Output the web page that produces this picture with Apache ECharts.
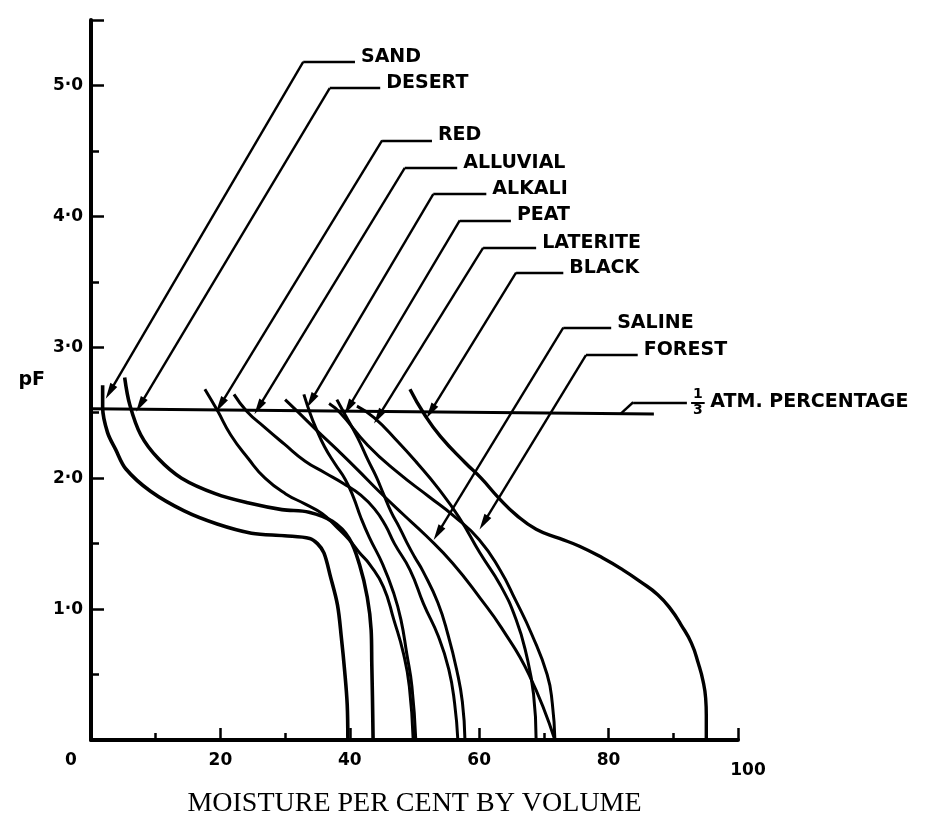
<!DOCTYPE html>
<html><head><meta charset="utf-8">
<script src="https://cdn.jsdelivr.net/npm/echarts/dist/echarts.min.js"></script>
<style>html,body{margin:0;padding:0;background:#fff}#c{width:932px;height:829px}</style>
</head><body><div id="c"></div>
<script>
// tick labels
const xTickLabels = {0: '0', 20: '20', 40: '40', 60: '60', 80: '80', 100: '100'};
const yTickLabels = {1: '1·0', 2: '2·0', 3: '3·0', 4: '4·0', 5: '5·0'};

// soil moisture characteristic curves: [moisture %, pF]
const sand = [[1.8,2.71],[1.8,2.54],[2.55,2.35],[3.8,2.22],[5.4,2.07],[9.2,1.90],[14.4,1.75],[19.5,1.65],[24.8,1.58],[29.9,1.56],[33.8,1.54],[35.0,1.50],[36.0,1.43],[37.0,1.25],[38.1,1.03],[38.7,0.78],[39.2,0.53],[39.6,0.27],[39.7,0]];
const desert = [[5.2,2.77],[6.0,2.56],[7.7,2.33],[10.4,2.15],[14.0,2.0],[19.3,1.88],[24.4,1.81],[29.5,1.76],[33.7,1.74],[37.3,1.67],[39.9,1.54],[41.5,1.34],[42.7,1.09],[43.3,0.84],[43.4,0.58],[43.5,0.33],[43.6,0]];
const red = [[17.6,2.68],[19.5,2.52],[21.6,2.33],[24.3,2.15],[26.9,2.0],[30.1,1.88],[33.2,1.80],[35.7,1.73],[37.9,1.63],[39.9,1.53],[41.5,1.43],[43.1,1.34],[45.2,1.17],[46.8,0.92],[48.3,0.66],[49.2,0.41],[49.8,0]];
const alluvial = [[22.1,2.64],[24.1,2.51],[26.8,2.39],[29.9,2.26],[33.1,2.13],[36.2,2.04],[39.0,1.96],[41.7,1.87],[43.9,1.76],[45.5,1.64],[46.9,1.50],[49.3,1.30],[51.4,1.04],[53.7,0.79],[55.3,0.54],[56.2,0.28],[56.7,0]];
const alkali = [[32.9,2.64],[33.9,2.49],[34.7,2.39],[36.1,2.24],[37.7,2.11],[39.3,1.99],[40.6,1.85],[41.7,1.70],[43.0,1.55],[45.1,1.34],[46.8,1.12],[47.9,0.92],[48.8,0.66],[49.6,0.41],[50.2,0]];
const peat = [[38.0,2.60],[39.1,2.50],[41.2,2.31],[42.8,2.14],[44.1,2.01],[45.2,1.88],[46.4,1.74],[47.6,1.63],[48.8,1.51],[50.0,1.40],[51.3,1.29],[53.6,1.05],[55.2,0.80],[56.5,0.54],[57.4,0.29],[57.8,0]];
const laterite = [[41.1,2.55],[43.8,2.46],[47.4,2.28],[50.5,2.11],[53.7,1.92],[56.9,1.70],[60.1,1.43],[63.3,1.18],[65.7,0.92],[67.3,0.65],[68.4,0.35],[68.8,0]];
const black = [[49.3,2.68],[51.5,2.49],[54.0,2.32],[57.8,2.12],[60.3,2.0],[63.0,1.85],[65.7,1.72],[68.8,1.61],[72.4,1.54],[75.5,1.48],[79.1,1.39],[82.2,1.30],[84.9,1.21],[87.6,1.11],[89.6,1.0],[91.2,0.88],[92.8,0.74],[93.9,0.58],[94.6,0.45],[95.0,0.32],[95.1,0.19],[95.1,0]];
const saline = [[30.0,2.60],[31.9,2.51],[35.0,2.36],[38.2,2.21],[41.3,2.06],[44.5,1.90],[48.1,1.73],[51.8,1.56],[55.9,1.35],[60.2,1.08],[63.4,0.86],[67.7,0.50],[71.7,0]];
const forest = [[36.8,2.57],[38.5,2.50],[42.8,2.25],[47.5,2.04],[52.2,1.86],[56.1,1.71],[60.0,1.53],[63.2,1.30],[65.6,1.07],[68.1,0.81],[70.5,0.50],[71.3,0.28],[71.7,0]];
const atmLine = [[0,2.53],[87,2.49]];

// label leaders: label, arrow tip, bend, end of horizontal
const leaderNames = ['SAND','DESERT','RED','ALLUVIAL','ALKALI','PEAT','LATERITE','BLACK','SALINE','FOREST'];
const leaderTips  = [[2.9,2.66],[7.6,2.56],[20.0,2.56],[25.9,2.54],[34.0,2.59],[39.8,2.54],[44.4,2.47],[52.5,2.51],[53.6,1.58],[60.7,1.66]];
const leaderBends = [[32.8,5.18],[36.9,4.98],[45.0,4.58],[48.5,4.37],[52.9,4.17],[57.0,3.97],[60.6,3.76],[65.7,3.57],[73.0,3.15],[76.5,2.94]];
const leaderEnds  = [[40.8,5.18],[44.7,4.98],[52.7,4.58],[56.6,4.37],[61.1,4.17],[64.9,3.97],[68.8,3.76],[73.0,3.57],[80.4,3.15],[84.5,2.94]];
const atmLeader = [[81.8,2.49],[83.8,2.58],[92.1,2.58]];
const atmFraction = ['1', '3'];
const atmFractionBar = [[92.8,2.58],[94.8,2.58]];
const atmLabel = 'ATM. PERCENTAGE';

const curves = [sand, desert, red, alluvial, alkali, peat, laterite, black, saline, forest];
const curveWidths = [3.6,3.6,3,3,3,3,3,3.4,3,3];
const curveSmooth = [0.35,0.35,0.5,0.5,0.5,0.5,0.5,0.5,0.5,0.5];

const labelFont = {color:'#000', fontFamily:'DejaVu Sans', fontWeight:'bold', fontSize:19};
const fracFont = {color:'#000', fontFamily:'DejaVu Sans', fontWeight:'bold', fontSize:14, lineHeight:13};

const markData = [];
leaderNames.forEach((n, i) => {
  markData.push([
    {coord: leaderBends[i], symbol: 'none', label: Object.assign({show:true, position:'end', formatter:n, distance:6, verticalAlign:'bottom', lineHeight:10}, labelFont)},
    {coord: leaderEnds[i], symbol: 'none'}
  ]);
  markData.push([
    {coord: leaderBends[i], symbol: 'none', label:{show:false}},
    {coord: leaderTips[i], symbol: 'triangle', symbolSize:[8,16]}
  ]);
});
markData.push([{coord: atmLeader[0], symbol:'none', label:{show:false}}, {coord: atmLeader[1], symbol:'none'}]);
markData.push([{coord: atmLeader[1], symbol:'none', label:{show:false}}, {coord: atmLeader[2], symbol:'none'}]);
markData.push([
  {coord: atmFractionBar[0], symbol:'none', lineStyle:{width:1.8}, label: Object.assign({show:true, position:'insideMiddleTop', formatter:atmFraction[0], distance:1}, fracFont)},
  {coord: atmFractionBar[1], symbol:'none'}
]);
markData.push([
  {coord: atmFractionBar[0], symbol:'none', lineStyle:{width:1.8}, label: Object.assign({show:true, position:'insideMiddleBottom', formatter:atmFraction[1], distance:2}, fracFont)},
  {coord: atmFractionBar[1], symbol:'none'}
]);
markData.push([
  {coord: atmFractionBar[0], symbol:'none', lineStyle:{width:1.8}, label: Object.assign({show:true, position:'end', formatter:atmLabel, distance:6}, labelFont)},
  {coord: atmFractionBar[1], symbol:'none'}
]);

const series = curves.map((d, i) => ({
  type:'line', data:d, smooth:curveSmooth[i], symbol:'none', silent:true,
  lineStyle:{color:'#000', width:curveWidths[i]}, z:3
}));
series.push({
  type:'line', data:atmLine, symbol:'none', silent:true,
  lineStyle:{color:'#000', width:3}, z:3,
  markLine:{silent:true, animation:false, symbol:['none','none'],
    lineStyle:{color:'#000', width:2.4, type:'solid'},
    label:{show:false}, data:markData}
});

const chart = echarts.init(document.getElementById('c'), null, {renderer:'canvas'});
chart.setOption({
  animation:false,
  backgroundColor:'#fff',
  grid:{left:91, right:194, top:20, bottom:89, containLabel:false},
  xAxis:{type:'value', min:0, max:100, interval:20,
    axisLine:{lineStyle:{color:'#000', width:4}},
    axisTick:{inside:true, length:12, lineStyle:{color:'#000', width:2.5}},
    minorTick:{show:true, splitNumber:2, length:7, lineStyle:{color:'#000', width:2.5}},
    splitLine:{show:false},
    axisLabel:{margin:12, color:'#000', fontFamily:'DejaVu Sans', fontWeight:'bold', fontSize:17,
      formatter: v => v === 0 ? '{z|' + xTickLabels[v] + '}' : (v === 100 ? '{h|' + xTickLabels[v] + '}' : (xTickLabels[v] || '')),
      rich:{z:{padding:[0,40,0,0], color:'#000', fontFamily:'DejaVu Sans', fontWeight:'bold', fontSize:17},
            h:{padding:[10,0,0,20], color:'#000', fontFamily:'DejaVu Sans', fontWeight:'bold', fontSize:17}}},
    name:'MOISTURE PER CENT BY VOLUME', nameLocation:'middle', nameGap:50,
    nameTextStyle:{color:'#000', fontFamily:'Liberation Serif', fontSize:28}
  },
  yAxis:{type:'value', min:0, max:5.5, interval:1,
    axisLine:{lineStyle:{color:'#000', width:4}},
    axisTick:{inside:true, length:13, lineStyle:{color:'#000', width:2.5}},
    minorTick:{show:true, splitNumber:2, length:8, lineStyle:{color:'#000', width:2.5}},
    splitLine:{show:false},
    axisLabel:{margin:8, color:'#000', fontFamily:'DejaVu Sans', fontWeight:'bold', fontSize:17,
      formatter: v => yTickLabels[v] || ''},
    name:'pF', nameLocation:'middle', nameRotate:0, nameGap:46,
    nameTextStyle:{color:'#000', fontFamily:'DejaVu Sans', fontWeight:'bold', fontSize:19}
  },
  series: series
});
</script></body></html>
